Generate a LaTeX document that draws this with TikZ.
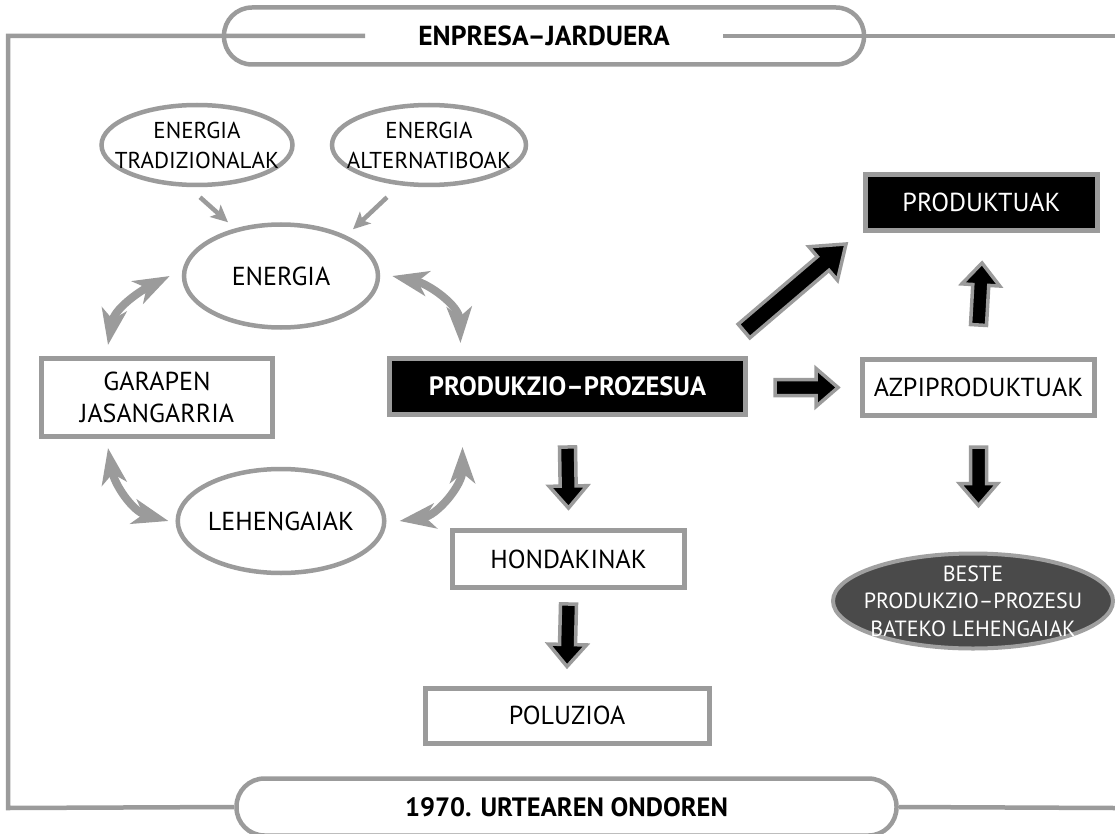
\documentclass[tikz,border=0pt]{standalone}
\usepackage{fontspec}
\setmainfont{PT Sans}
\usepackage{tikz}
\usetikzlibrary{positioning,arrows.meta,calc,shapes.geometric}
\usepackage{xcolor}
\definecolor{framegray}{RGB}{155,155,155}
\definecolor{ovalgray}{RGB}{160,160,160}
\definecolor{darkoval}{RGB}{74,74,74}

% block arrow: start, tip, half shaft, half head, head length
\newcommand\fatarrow[5]{%
  \draw[fatline] ($(#1)!#3!90:(#2)$) -- ($(#2)!#5!(#1)!#3!-90:(#1)$)
    -- ($(#2)!#5!(#1)!#4!-90:(#1)$) -- (#2)
    -- ($(#2)!#5!(#1)!#4!90:(#1)$) -- ($(#2)!#5!(#1)!#3!90:(#1)$)
    -- ($(#1)!#3!-90:(#2)$) -- cycle;}

\begin{document}
\begin{tikzpicture}[x=1pt,y=1pt,
  every node/.style={font=\fontsize{26}{32}\selectfont, inner sep=0pt, align=center},
  titlebox/.style={draw=framegray, line width=4.5pt, fill=white, rounded corners=28pt,
    minimum height=57pt, font=\bfseries\fontsize{27.5}{30}\selectfont},
  box/.style={draw=framegray, line width=5pt, fill=white, minimum width=232pt, minimum height=56pt},
  darkbox/.style={box, fill=black, text=white},
  oval/.style={ellipse, draw=framegray, line width=4.5pt, fill=white},
  smalloval/.style={oval, minimum width=191pt, minimum height=80pt, inner xsep=-40pt, inner ysep=-18pt,
    font=\fontsize{23}{30}\selectfont},
  frameline/.style={draw=framegray, line width=4.5pt},
  feed/.style={draw=framegray, line width=4.5pt, -{Stealth[length=17pt,width=16pt,inset=4pt]}},
  cyclearrow/.style={draw=framegray, line width=8pt,
    {Stealth[length=36pt,width=25pt,inset=10pt]}-{Stealth[length=36pt,width=25pt,inset=10pt]}},
  fatline/.style={draw=framegray, fill=black, line width=3.5pt, line join=miter}]
\useasboundingbox (0,0) rectangle (1115,-834);

% title bars and frame
\node[titlebox, minimum width=640pt] (goiburu) at (544,-36) {ENPRESA–JARDUERA};
\node[titlebox, minimum width=660pt, font=\bfseries\fontsize{26.5}{30}\selectfont] (oina) at (566.5,-807) {1970. URTEAREN ONDOREN};
\draw[frameline] ([xshift=-179pt]goiburu.center) -- (8,-36) -- (8,-808) -- (oina.west);
\draw[frameline] ([xshift=179pt]goiburu.center) -- (1115,-36);
\draw[frameline] (oina.east) -- (1115,-808);

% energy sources
\node[smalloval] (tradi) at (197,-145) {ENERGIA\\TRADIZIONALAK};
\node[smalloval, minimum width=194pt] (alter) at (429,-145) {ENERGIA\\ALTERNATIBOAK};

% the cycle
\node[oval, minimum width=194pt, minimum height=103pt] (energia) at (281,-276) {ENERGIA};
\node[oval, minimum width=194pt, minimum height=104pt] (lehen) at (281,-521) {LEHENGAIAK};
\node[box, minimum width=231pt, minimum height=78pt] (garapen) at (157,-397.5) {GARAPEN\\JASANGARRIA};
\node[darkbox, minimum width=356pt, font=\bfseries\fontsize{26.5}{30}\selectfont] (prozesu) at (567.5,-386.5) {PRODUKZIO–PROZESUA};

% outputs
\node[darkbox] (produktuak) at (981.5,-202.5) {PRODUKTUAK};
\node[box] (azpi) at (978.5,-387.5) {AZPIPRODUKTUAK};
\node[box, minimum height=57pt] (hondakin) at (568.5,-559) {HONDAKINAK};
\node[box, minimum width=284pt, minimum height=55pt] (poluzio) at (567,-715.5) {POLUZIOA};
\node[ellipse, draw=ovalgray, fill=darkoval, text=white, line width=4pt,
  minimum width=280pt, minimum height=95pt, inner xsep=-45pt, inner ysep=-22pt,
  font=\fontsize{22}{27.5}\selectfont]
  (beste) at (973,-601) {BESTE\\PRODUKZIO–PROZESU\\BATEKO LEHENGAIAK};

% thin gray arrows into ENERGIA
\draw[feed] ([shift={(3pt,-10pt)}]tradi.south) -- ([shift={(-53pt,0pt)}]energia.north);
\draw[feed] ([shift={(-42pt,-10pt)}]alter.south) -- ([shift={(72pt,-7pt)}]energia.north);

% curved double arrows
\draw[cyclearrow] ([shift={(-49pt,11pt)}]garapen.north) to[out=80,in=207] ([xshift=-12pt]energia.west);
\draw[cyclearrow] ([xshift=12pt]energia.east) to[out=-12,in=92] ([shift={(-107pt,13pt)}]prozesu.north);
\draw[cyclearrow] ([shift={(-49pt,-9pt)}]garapen.south) to[out=-80,in=165] ([xshift=-7pt]lehen.west);
\draw[cyclearrow] ([xshift=13pt]lehen.east) to[out=8,in=-90] ([shift={(-105pt,-30pt)}]prozesu.south);

% block arrows
\coordinate (p1a) at ([shift={(-4pt,25pt)}]prozesu.north east);
\coordinate (p1b) at ([shift={(-17pt,-11pt)}]produktuak.south west);
\coordinate (p2a) at ([shift={(27pt,-1pt)}]prozesu.east);
\coordinate (p2b) at ([xshift=-22pt]azpi.west);
\coordinate (p3a) at ([yshift=32pt]azpi.north);
\coordinate (p3b) at ([shift={(0.5pt,-30pt)}]produktuak.south);
\coordinate (p4a) at ([yshift=-30pt]prozesu.south);
\coordinate (p4b) at ([yshift=20pt]hondakin.north);
\coordinate (p5a) at ([yshift=-14pt]hondakin.south);
\coordinate (p5b) at ([yshift=19pt]poluzio.north);
\coordinate (p6a) at ([yshift=-29pt]azpi.south);
\coordinate (p6b) at ([shift={(5.5pt,46pt)}]beste.north);
\fatarrow{p1a}{p1b}{9pt}{22pt}{30pt}
\fatarrow{p2a}{p2b}{8pt}{19pt}{22pt}
\fatarrow{p3a}{p3b}{8pt}{19pt}{22pt}
\fatarrow{p4a}{p4b}{8pt}{19pt}{22pt}
\fatarrow{p5a}{p5b}{8pt}{19pt}{22pt}
\fatarrow{p6a}{p6b}{8pt}{19pt}{22pt}
\end{tikzpicture}
\end{document}
